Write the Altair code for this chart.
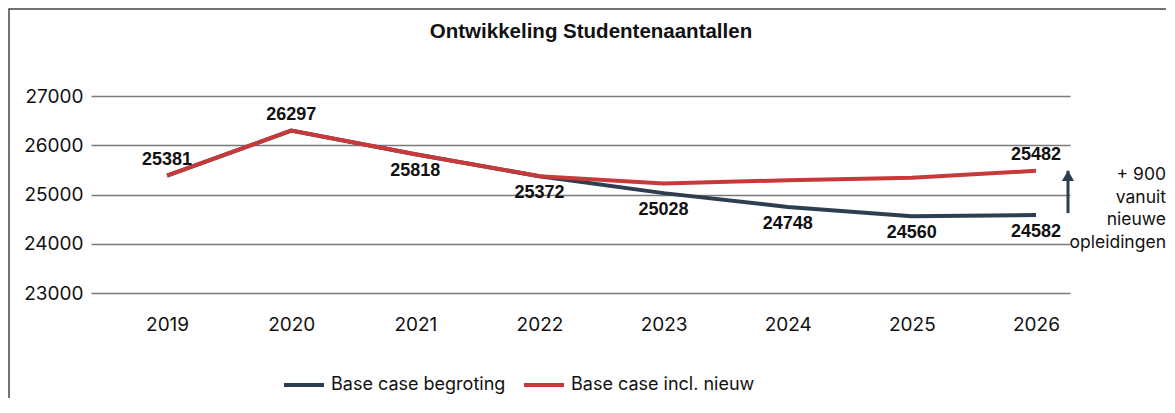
import altair as alt
import pandas as pd

# ---- data ----
years = [2019, 2020, 2021, 2022, 2023, 2024, 2025, 2026]
begroting = [25381, 26297, 25818, 25372, 25028, 24748, 24560, 24582]
incl_nieuw = [25381, 26297, 25818, 25372, 25225, 25290, 25340, 25482]
series_names = ["Base case begroting", "Base case incl. nieuw"]
y_ticks = [23000, 24000, 25000, 26000, 27000]
title_text = "Ontwikkeling Studentenaantallen"
annotation_lines = ["+ 900", "vanuit", "nieuwe", "opleidingen"]
labels_above_years = [2019, 2020]

# ---- style ----
NAVY = "#2c3e50"
RED = "#c8393a"
TXT = "#111111"
GRID = "#7a7a7a"
AX_FONT = "Inter"
BOLD_FONT = "Liberation Sans"

rows = []
for yr, b, n in zip(years, begroting, incl_nieuw):
    rows.append({"year": yr, "value": b, "series": series_names[0]})
    rows.append({"year": yr, "value": n, "series": series_names[1]})
df = pd.DataFrame(rows)

lab_rows = [
    {"year": yr, "value": b, "pos": "above" if yr in labels_above_years else "below"}
    for yr, b in zip(years, begroting)
]
lab_rows.append({"year": years[-1], "value": incl_nieuw[-1], "pos": "above"})
df_lab = pd.DataFrame(lab_rows)

df_arrow = pd.DataFrame({"year": [years[-1]], "low": [begroting[-1]], "high": [incl_nieuw[-1]]})
df_one = pd.DataFrame({"t": [title_text]})

x_scale = alt.Scale(domain=[2018.387, 2026.274], nice=False, zero=False)
y_scale = alt.Scale(domain=[23000, 27000], nice=False, zero=False)

x_enc = alt.X(
    "year:Q",
    scale=x_scale,
    axis=alt.Axis(
        values=years, format="d", title=None, grid=False, ticks=False, domain=False,
        labelFont=AX_FONT, labelFontSize=19, labelColor=TXT, labelPadding=22,
    ),
)
y_enc = alt.Y(
    "value:Q",
    scale=y_scale,
    axis=alt.Axis(
        values=y_ticks, format="d", title=None, grid=True, gridColor=GRID, gridWidth=1.3,
        ticks=False, domain=False, labelFont=AX_FONT, labelFontSize=19,
        labelColor=TXT, labelPadding=8,
    ),
)

frame = alt.Chart(df_one).mark_rect(filled=False, stroke="#444444", strokeWidth=1.5).encode(
    x=alt.value(-82), x2=alt.value(1300), y=alt.value(-87), y2=alt.value(600)
)

lines = alt.Chart(df).mark_line(strokeWidth=4).encode(
    x=x_enc,
    y=y_enc,
    color=alt.Color(
        "series:N",
        scale=alt.Scale(domain=series_names, range=[NAVY, RED]),
        legend=alt.Legend(
            orient="none", legendX=191, legendY=267, direction="horizontal", title=None,
            symbolType="stroke", symbolSize=1600, symbolStrokeWidth=4,
            labelFont=AX_FONT, labelFontSize=18, labelColor=TXT, labelOffset=5,
            labelLimit=0, columnPadding=10, padding=0,
        ),
    ),
    order=alt.Order("year:Q"),
)

lab_common = dict(font=BOLD_FONT, fontSize=18, fontWeight="bold", color=TXT,
                  align="center", baseline="middle")
labels_above = alt.Chart(df_lab).transform_filter(alt.datum.pos == "above").mark_text(
    dy=-16, **lab_common
).encode(x=alt.X("year:Q", scale=x_scale), y=alt.Y("value:Q", scale=y_scale), text=alt.Text("value:Q", format="d"))
labels_below = alt.Chart(df_lab).transform_filter(alt.datum.pos == "below").mark_text(
    dy=17, **lab_common
).encode(x=alt.X("year:Q", scale=x_scale), y=alt.Y("value:Q", scale=y_scale), text=alt.Text("value:Q", format="d"))

arrow_rule = alt.Chart(df_arrow).mark_rule(color=NAVY, strokeWidth=3, xOffset=32, yOffset=-2).encode(
    x=alt.X("year:Q", scale=x_scale), y=alt.Y("low:Q", scale=y_scale), y2="high:Q"
)
arrow_head = alt.Chart(df_arrow).mark_point(
    shape="triangle-up", filled=True, color=NAVY, size=150, opacity=1, xOffset=32, yOffset=5
).encode(x=alt.X("year:Q", scale=x_scale), y=alt.Y("high:Q", scale=y_scale))

annotation = alt.Chart(df_one).mark_text(
    text=annotation_lines, font=AX_FONT, fontSize=17.5, color=TXT, align="right",
    baseline="middle", lineHeight=22.7,
).encode(x=alt.value(1075), y=alt.value(79))

title = alt.Chart(df_one).mark_text(
    font=BOLD_FONT, fontSize=20.5, fontWeight="bold", color=TXT, align="center", baseline="middle"
).encode(x=alt.value(500), y=alt.value(-64.5), text="t:N")

chart = alt.layer(
    frame, lines, labels_above, labels_below, arrow_rule, arrow_head, annotation, title
).properties(
    width=979, height=197,
    padding={"left": 83, "top": 88, "right": 96, "bottom": 105},
    autosize=alt.AutoSizeParams(type="none"),
).configure_view(stroke=None)

chart.save("out.html", embed_options={"renderer": "svg", "actions": False})
